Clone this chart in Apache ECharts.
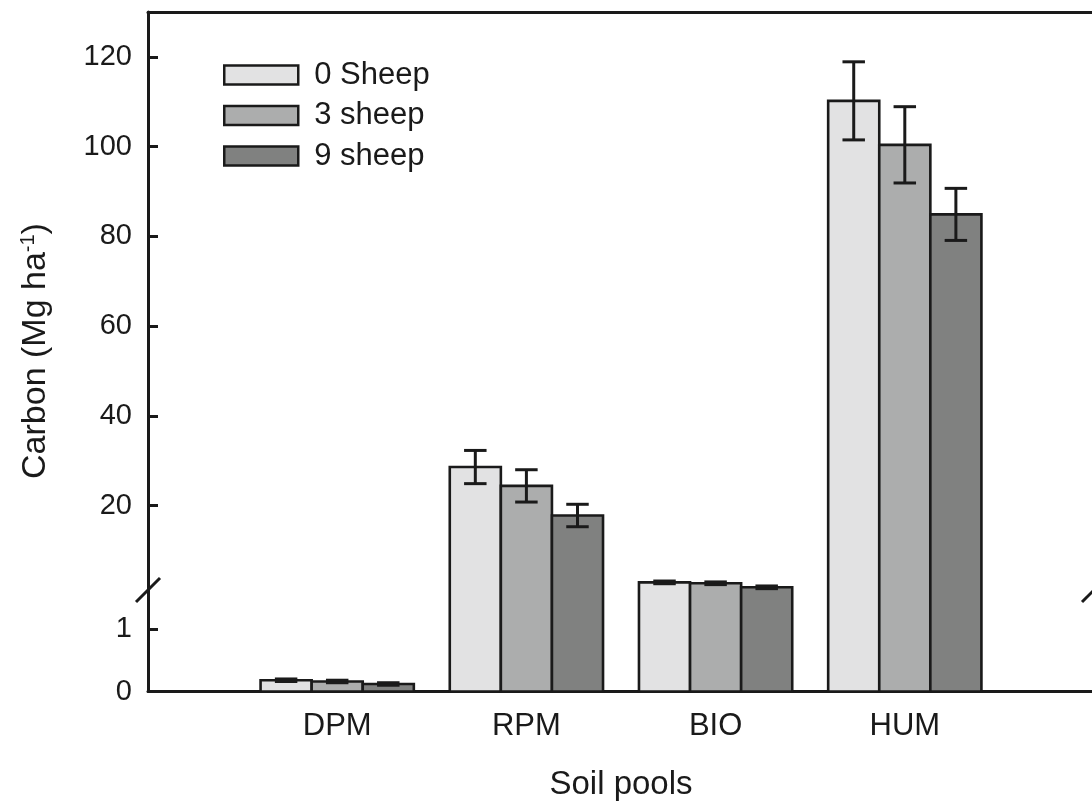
<!DOCTYPE html>
<html>
<head>
<meta charset="utf-8">
<script src="https://cdn.jsdelivr.net/npm/echarts@6/dist/echarts.min.js"></script>
<style>
html,body{margin:0;padding:0;background:#fff;}
#chart{width:1092px;height:808px;}
</style>
</head>
<body>
<div id="chart"></div>
<script>
// ---- data ----
const categories = ['DPM', 'RPM', 'BIO', 'HUM'];
const seriesNames = ['0 Sheep', '3 sheep', '9 sheep'];
const sheep0 = [0.18, 28.6, 2.9, 110.2];
const err0   = [0.02, 3.7, 0.3, 8.7];
const sheep3 = [0.16, 24.4, 2.7, 100.4];
const err3   = [0.02, 3.6, 0.3, 8.5];
const sheep9 = [0.12, 17.8, 1.8, 84.9];
const err9   = [0.02, 2.5, 0.3, 5.8];
const lowerTicks = [0, 1];
const upperTicks = [20, 40, 60, 80, 100, 120];
const lowerMax = 1.62;   // top of lower axis segment
const upperMin = 1.2;    // bottom of upper axis segment
const upperMax = 130;

// ---- styling ----
const FONT = 'Liberation Sans, Arial, Helvetica, sans-serif';
const INK = '#1a1a1a';
const fills = ['#e2e2e3', '#acadad', '#808180'];
const BAR_FRAC = 0.27;
const values = [sheep0, sheep3, sheep9];
const errs = [err0, err3, err9];
const axisCats = [''].concat(categories, ['']);

function seriesData(s) {
  return categories.map((c, i) => [i + 1, values[s][i], errs[s][i]]);
}

function errBar(cx, yv, e, api, capW) {
  const yHi = api.coord([0, yv + e])[1];
  const yLo = api.coord([0, yv - e])[1];
  const st = {stroke: INK, lineWidth: 3};
  return [
    {type: 'line', shape: {x1: cx, y1: yHi, x2: cx, y2: yLo}, style: st},
    {type: 'line', shape: {x1: cx - capW / 2, y1: yHi, x2: cx + capW / 2, y2: yHi}, style: st},
    {type: 'line', shape: {x1: cx - capW / 2, y1: yLo, x2: cx + capW / 2, y2: yLo}, style: st}
  ];
}

function makeRender(s, part) {
  return function (params, api) {
    const ci = api.value(0), v = api.value(1), e = api.value(2);
    const xc = api.coord([ci, 1])[0];
    const band = api.coord([ci + 1, 1])[0] - xc;
    const bw = band * BAR_FRAC;
    const cx = xc + (s - 1) * bw;
    const x0 = cx - bw / 2, x1 = cx + bw / 2;
    const cs = params.coordSys;
    const gTop = cs.y, gBot = cs.y + cs.height;
    const capW = bw * 0.44;
    const children = [];
    const border = {stroke: INK, lineWidth: 2.6, fill: null, lineJoin: 'miter'};
    if (part === 'lower') {
      const full = v <= lowerMax;
      const yTop = full ? api.coord([ci, v])[1] : gTop;
      children.push({type: 'rect', shape: {x: x0, y: yTop, width: bw, height: gBot - yTop}, style: {fill: fills[s]}});
      if (full) {
        children.push({type: 'polygon', shape: {points: [[x0, gBot], [x0, yTop], [x1, yTop], [x1, gBot]]}, style: border});
        children.push.apply(children, errBar(cx, v, e, api, capW));
      } else {
        children.push({type: 'polyline', shape: {points: [[x0, gTop], [x0, gBot], [x1, gBot], [x1, gTop]]}, style: border});
      }
    } else {
      if (v <= upperMin) return null;
      const yTop = api.coord([ci, v])[1];
      children.push({type: 'rect', shape: {x: x0, y: yTop, width: bw, height: gBot - yTop}, style: {fill: fills[s]}});
      children.push({type: 'polyline', shape: {points: [[x0, gBot], [x0, yTop], [x1, yTop], [x1, gBot]]}, style: border});
      children.push.apply(children, errBar(cx, v, e, api, capW));
    }
    return {type: 'group', children: children};
  };
}

function slashRender(params, api) {
  const p = api.coord([api.value(0), api.value(1)]);
  return {type: 'line', shape: {x1: p[0] - 12, y1: p[1] + 12, x2: p[0] + 12, y2: p[1] - 12},
          style: {stroke: INK, lineWidth: 3}};
}

const series = [];
for (let s = 0; s < 3; s++) {
  series.push({
    type: 'custom', name: seriesNames[s], xAxisIndex: 0, yAxisIndex: 0,
    renderItem: makeRender(s, 'lower'), data: seriesData(s), clip: false,
    itemStyle: {color: fills[s], borderColor: INK, borderWidth: 2.5}, z: 2 + s
  });
  series.push({
    type: 'custom', name: seriesNames[s], xAxisIndex: 1, yAxisIndex: 1,
    renderItem: makeRender(s, 'upper'), data: seriesData(s), clip: false,
    itemStyle: {color: fills[s], borderColor: INK, borderWidth: 2.5}, z: 2 + s
  });
}
series.push({
  type: 'custom', name: 'break', xAxisIndex: 0, yAxisIndex: 0, clip: false, z: 10,
  renderItem: slashRender, data: [[0, lowerMax], [axisCats.length - 1, lowerMax]], silent: true
});

const axisLine = {show: true, lineStyle: {color: INK, width: 3}};
const tickStyle = {show: true, inside: true, length: 10, lineStyle: {color: INK, width: 3}};
const tickLabel = {fontFamily: FONT, fontSize: 29, color: INK, margin: 16};

const option = {
  animation: false,
  backgroundColor: '#ffffff',
  grid: [
    {left: 148, width: 946, top: 590, height: 101.5, outerBoundsMode: 'none', containLabel: false},
    {left: 148, width: 946, top: 12, height: 578, outerBoundsMode: 'none', containLabel: false}
  ],
  xAxis: [
    {type: 'category', gridIndex: 0, data: axisCats, boundaryGap: false,
     axisLine: axisLine, axisTick: {show: false},
     axisLabel: {fontFamily: FONT, fontSize: 31, color: INK, margin: 19, interval: 0},
     name: 'Soil pools', nameLocation: 'middle', nameGap: 77,
     nameTextStyle: {fontFamily: FONT, fontSize: 33, color: INK},
     splitLine: {show: false}},
    {type: 'category', gridIndex: 1, data: axisCats, boundaryGap: false, position: 'top',
     axisLine: axisLine, axisTick: {show: false}, axisLabel: {show: false}, splitLine: {show: false}}
  ],
  yAxis: [
    {type: 'value', gridIndex: 0, min: 0, max: lowerMax,
     axisLine: axisLine,
     axisTick: Object.assign({}, tickStyle, {customValues: lowerTicks}),
     axisLabel: Object.assign({}, tickLabel, {customValues: lowerTicks}),
     splitLine: {show: false}},
    {type: 'value', gridIndex: 1, min: upperMin, max: upperMax,
     axisLine: axisLine,
     axisTick: Object.assign({}, tickStyle, {customValues: upperTicks}),
     axisLabel: Object.assign({}, tickLabel, {customValues: upperTicks}),
     splitLine: {show: false}}
  ],
  legend: {
    orient: 'vertical', left: 223, top: 59.5, padding: 0,
    itemWidth: 74, itemHeight: 19, itemGap: 9.5,
    textStyle: {fontFamily: FONT, fontSize: 31, color: INK, padding: [0, 0, 0, 11]},
    data: seriesNames.map((n, i) => ({name: n, icon: 'rect',
      itemStyle: {color: fills[i], borderColor: INK, borderWidth: 2.5}}))
  },
  graphic: [{
    type: 'text', x: 36, y: 351, rotation: Math.PI / 2,
    style: {
      text: '{a|Carbon (Mg ha}{s|-1}{a|)}',
      align: 'center', verticalAlign: 'middle',
      rich: {
        a: {fontFamily: FONT, fontSize: 34, fill: INK, color: INK},
        s: {fontFamily: FONT, fontSize: 20, fill: INK, color: INK, padding: [0, 0, 16, 0]}
      }
    }
  }],
  series: series
};

const chart = echarts.init(document.getElementById('chart'), null, {renderer: 'canvas'});
chart.setOption(option);
</script>
</body>
</html>
